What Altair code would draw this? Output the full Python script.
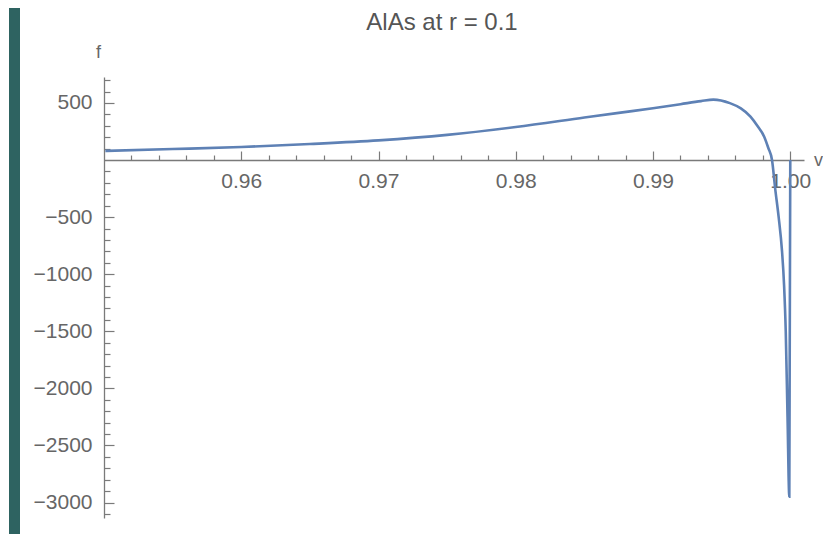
import altair as alt
import pandas as pd

# ---- data ----
v_values = [0.9501, 0.955, 0.960, 0.965, 0.970, 0.975, 0.980, 0.985, 0.9875, 0.990,
            0.992, 0.9935, 0.9944, 0.9956, 0.9964, 0.9971, 0.9976, 0.9981, 0.9984, 0.99867,
            0.9989, 0.99915, 0.9994, 0.99955, 0.99967, 0.9998, 0.99993, 1.0]
f_values = [80, 96, 114, 140, 172, 220, 289, 372, 413, 453,
            489, 516, 529, 498, 452, 380, 300, 204, 105, 0,
            -250, -496, -800, -1100, -1500, -2248, -2948, 0]

x_major = [0.96, 0.97, 0.98, 0.99, 1.00]
x_ticks = [0.952, 0.954, 0.956, 0.958, 0.960, 0.962, 0.964, 0.966, 0.968, 0.970,
           0.972, 0.974, 0.976, 0.978, 0.980, 0.982, 0.984, 0.986, 0.988, 0.990,
           0.992, 0.994, 0.996, 0.998, 1.000]
y_major = [-3000, -2500, -2000, -1500, -1000, -500, 500]
y_ticks = [v for v in range(-3100, 800, 100) if v != 0]

TITLE = "AlAs at r = 0.1"
X_TITLE = "v"
Y_TITLE = "f"

# ---- layout ----
W, H = 700, 441
x_dom = [0.95, 1.001]
y_dom = [-3135, 727]
zero_px = H * (y_dom[1] - 0) / (y_dom[1] - y_dom[0])

AXIS_COLOR = "#7a7a7a"
LABEL_COLOR = "#666666"
LINE_COLOR = "#5E81B5"
FONT = "Liberation Sans"

df = pd.DataFrame({"v": v_values, "f": f_values})
one = pd.DataFrame({"a": [0]})

x_scale = alt.Scale(domain=x_dom, nice=False, zero=False)
y_scale = alt.Scale(domain=y_dom, nice=False, zero=False)

# axis carrying labels and the axis lines (placed at f = 0 and v = 0.95)
x_label_axis = alt.Axis(
    orient="bottom", offset=zero_px - H, values=x_major, format=".2f",
    ticks=False, tickSize=0, domain=True, domainColor=AXIS_COLOR, domainWidth=1.3,
    labelFont=FONT, labelFontSize=21, labelColor=LABEL_COLOR, labelPadding=10,
    labelFlush=False, labelOverlap=False, grid=False,
    title=X_TITLE, titleX=714, titleY=0, titleAlign="center", titleBaseline="middle",
    titleFont=FONT, titleFontSize=18, titleColor=LABEL_COLOR, titleFontWeight="normal",
)
y_label_axis = alt.Axis(
    orient="left", values=y_major, format="d",
    ticks=False, tickSize=0, domain=True, domainColor=AXIS_COLOR, domainWidth=1.3,
    labelFont=FONT, labelFontSize=21, labelColor=LABEL_COLOR, labelPadding=12,
    labelFlush=False, labelOverlap=False, grid=False,
    title=Y_TITLE, titleAngle=0, titleX=-6, titleY=-25, titleAlign="center",
    titleBaseline="middle", titleFont=FONT, titleFontSize=18, titleColor=LABEL_COLOR,
    titleFontWeight="normal",
)

# axes carrying the inward-pointing major/minor ticks
x_tick_axis = alt.Axis(
    orient="top", offset=-zero_px, values=x_ticks, labels=False, domain=False,
    ticks=True, tickColor=AXIS_COLOR, tickWidth=1.2,
    tickSize={"condition": {"test": "abs(datum.value*100 - round(datum.value*100)) < 0.001",
                            "value": 9}, "value": 5},
    grid=False, title="",
)
y_tick_axis = alt.Axis(
    orient="right", offset=-W, values=y_ticks, labels=False, domain=False,
    ticks=True, tickColor=AXIS_COLOR, tickWidth=1.2,
    tickSize={"condition": {"test": "datum.value % 500 == 0", "value": 10}, "value": 6},
    grid=False, title="",
)

tick_layer = alt.Chart(df).mark_line(opacity=0).encode(
    x=alt.X("v:Q", scale=x_scale, axis=x_tick_axis),
    y=alt.Y("f:Q", scale=y_scale, axis=y_tick_axis),
)

line_layer = alt.Chart(df).mark_line(
    color=LINE_COLOR, strokeWidth=2.6, interpolate="monotone"
).encode(
    x=alt.X("v:Q", scale=x_scale, axis=x_label_axis),
    y=alt.Y("f:Q", scale=y_scale, axis=y_label_axis),
    order=alt.Order("v:Q"),
)

title_layer = alt.Chart(one).mark_text(
    text=TITLE, font=FONT, fontSize=24, color="#555555",
    align="center", baseline="alphabetic",
).encode(x=alt.value(338), y=alt.value(-47))

stripe_layer = alt.Chart(one).mark_rect(color="#2e6361").encode(
    x=alt.value(-95), x2=alt.value(-84), y=alt.value(-69), y2=alt.value(H + 16)
)

chart = alt.layer(stripe_layer, tick_layer, line_layer, title_layer).resolve_axis(
    x="independent", y="independent"
).properties(
    width=W, height=H,
    padding={"left": 96, "top": 69, "right": 19, "bottom": 16},
    autosize=alt.AutoSizeParams(type="none"),
    background="white",
).configure_view(stroke="transparent")

chart.save("out.html", embed_options={"renderer": "svg", "actions": False})
